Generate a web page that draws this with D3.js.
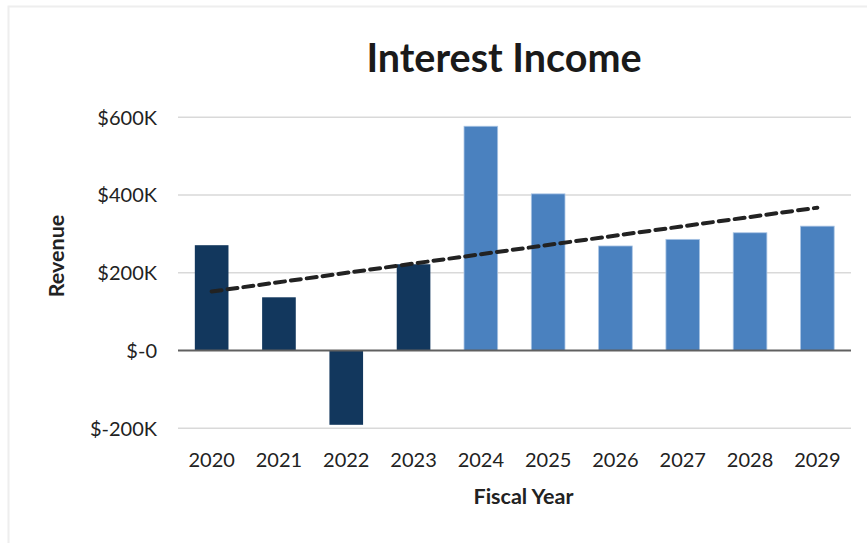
<!DOCTYPE html>
<html><head><meta charset="utf-8">
<script src="https://cdn.jsdelivr.net/npm/d3@7"></script>
<style>body{margin:0;background:#fff}svg{display:block}text{font-family:Lato,"Open Sans",sans-serif}</style>
</head><body><svg id="c" width="867" height="543"></svg>
<script>
const years = ["2020","2021","2022","2023","2024","2025","2026","2027","2028","2029"];
const revenue = [271000,137000,-191000,222000,577000,403000,269000,286000,303000,320000];
const actualYears = ["2020","2021","2022","2023"];
const yTicks = [-200000,0,200000,400000,600000];
const yTickLabels = ["$-200K","$-0","$200K","$400K","$600K"];

const svg = d3.select("#c");
const m = {left:178, right:851, top:117.3, bottom:428.3};
const x = d3.scaleBand().domain(years).range([m.left, m.right]).paddingInner(0.5).paddingOuter(0.25);
const y = d3.scaleLinear().domain([-200000,600000]).range([m.bottom, m.top]);

// chart border
svg.append("rect").attr("x",8.5).attr("y",6.5).attr("width",900).attr("height",600)
  .attr("fill","none").attr("stroke","#eeeeee").attr("stroke-width",2);

// gridlines
svg.append("g").selectAll("line").data(yTicks.filter(d=>d!==0)).join("line")
  .attr("x1",m.left).attr("x2",m.right).attr("y1",d=>y(d)).attr("y2",d=>y(d))
  .attr("stroke","#d9d9d9").attr("stroke-width",1.5);

// y labels
svg.append("g").selectAll("text").data(yTicks).join("text")
  .attr("x",157).attr("y",d=>y(d)).attr("dy","0.36em").attr("text-anchor","end")
  .attr("font-size",20).attr("fill","#222").text((d,i)=>yTickLabels[i]);

// bars
svg.append("g").selectAll("rect").data(years).join("rect")
  .attr("x",d=>x(d)).attr("width",x.bandwidth())
  .attr("y",(d,i)=>y(Math.max(0,revenue[i])))
  .attr("height",(d,i)=>Math.abs(y(revenue[i])-y(0)))
  .attr("fill",d=>actualYears.includes(d)?"#12375d":"#4a81bf")
  .attr("stroke",d=>actualYears.includes(d)?"none":"#a9c4e4").attr("stroke-width",0.8);

// zero axis
svg.append("line").attr("x1",m.left).attr("x2",m.right).attr("y1",y(0)).attr("y2",y(0))
  .attr("stroke","#606060").attr("stroke-width",2);

// linear trend (least squares of the series)
const xs = years.map((d,i)=>i);
const mx = d3.mean(xs), my = d3.mean(revenue);
const slope = d3.sum(xs,(v,i)=>(v-mx)*(revenue[i]-my))/d3.sum(xs,v=>(v-mx)*(v-mx));
const icpt = my - slope*mx;
const trend = years.map((d,i)=>[x(d)+x.bandwidth()/2, y(icpt+slope*i)]);
svg.append("path").attr("d",d3.line()([trend[0],trend[trend.length-1]]))
  .attr("stroke","#222").attr("stroke-width",4).attr("stroke-dasharray","10,6")
  .attr("stroke-linecap","round").attr("fill","none");

// x labels
svg.append("g").selectAll("text").data(years).join("text")
  .attr("x",d=>x(d)+x.bandwidth()/2).attr("y",467).attr("text-anchor","middle")
  .attr("font-size",20).attr("fill","#222").text(d=>d);

// titles
svg.append("text").attr("x",504).attr("y",72).attr("text-anchor","middle")
  .attr("font-size",39.5).attr("font-weight","bold").attr("fill","#1a1a1a").text("Interest Income");
svg.append("text").attr("x",523.5).attr("y",504).attr("text-anchor","middle")
  .attr("font-size",21.5).attr("font-weight","bold").attr("fill","#222").text("Fiscal Year");
svg.append("text").attr("transform","translate(64,256) rotate(-90)").attr("text-anchor","middle")
  .attr("font-size",21.5).attr("font-weight","bold").attr("fill","#222").text("Revenue");
</script></body></html>
